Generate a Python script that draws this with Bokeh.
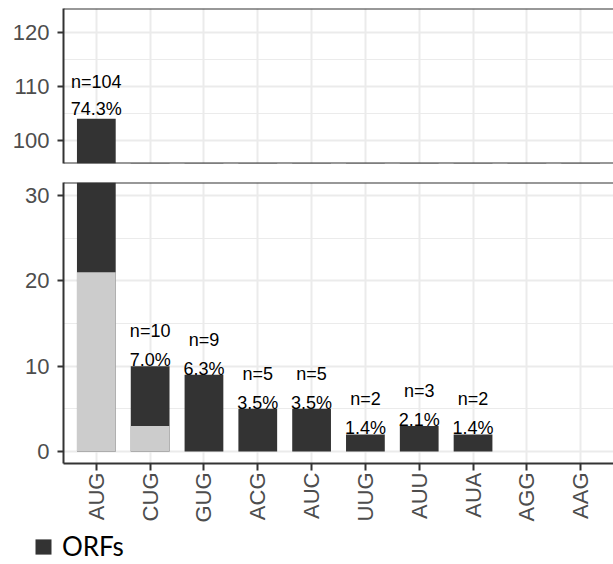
from bokeh.plotting import figure
from bokeh.models import (FactorRange, Range1d, SingleIntervalTicker, Legend, LegendItem,
                          ColumnDataSource, Span, CDSView, BooleanFilter)
from bokeh.layouts import column
from bokeh.embed import file_html
from bokeh.resources import INLINE
from bokeh.core.properties import value
from math import pi

# ---- data ----
codons = ["AUG", "CUG", "GUG", "ACG", "AUC", "UUG", "AUU", "AUA", "AGG", "AAG"]
orfs = [104, 10, 9, 5, 5, 2, 3, 2, 0, 0]
light_part = [21, 3, 0, 0, 0, 0, 0, 0, 0, 0]
n_labels = ["n=104", "n=10", "n=9", "n=5", "n=5", "n=2", "n=3", "n=2", "", ""]
pct_labels = ["74.3%", "7.0%", "6.3%", "3.5%", "3.5%", "1.4%", "2.1%", "1.4%", "", ""]
series_name = "ORFs"

DARK = "#333333"
LIGHT = "#CCCCCC"
GRID = "#EBEBEB"
TICK_TXT = "#4D4D4D"
FONT = "Liberation Sans"

src = ColumnDataSource(dict(codon=codons, orfs=orfs, light=light_part,
                            nlab=n_labels, plab=pct_labels))


def make_panel(y_start, y_end, height, min_top, min_bottom, pct_off, n_off, show_x):
    p = figure(width=613, height=height,
               x_range=FactorRange(factors=codons, range_padding=0.11,
                                   range_padding_units="absolute"),
               y_range=Range1d(y_start, y_end),
               output_backend="svg", toolbar_location=None,
               min_border_left=63, min_border_right=0,
               min_border_top=min_top, min_border_bottom=min_bottom)
    p.outline_line_color = None
    p.background_fill_color = "white"
    p.border_fill_color = "white"

    # bars
    r = p.vbar(x="codon", top="orfs", bottom=0, width=0.72, source=src,
               fill_color=DARK, line_color=None)
    p.vbar(x="codon", top="light", bottom=0, width=0.72, source=src,
           fill_color=LIGHT, line_color=None)

    # labels: only those whose bar top falls inside this panel
    keep = [(y_start < v < y_end) and lab != "" for v, lab in zip(orfs, n_labels)]
    view = CDSView(filter=BooleanFilter(keep))
    p.text(x="codon", y="orfs", text="plab", source=src, view=view, text_align="center",
           text_baseline="alphabetic", y_offset=pct_off, text_font=value(FONT),
           text_font_size="18px", text_color="black")
    p.text(x="codon", y="orfs", text="nlab", source=src, view=view, text_align="center",
           text_baseline="alphabetic", y_offset=n_off, text_font=value(FONT),
           text_font_size="18px", text_color="black")

    # y axis
    p.yaxis.ticker = SingleIntervalTicker(interval=10, num_minor_ticks=2)
    p.yaxis.axis_line_color = DARK
    p.yaxis.axis_line_width = 2
    p.yaxis.major_tick_line_color = DARK
    p.yaxis.major_tick_line_width = 2
    p.yaxis.major_tick_out = 6
    p.yaxis.major_tick_in = 0
    p.yaxis.minor_tick_line_color = None
    p.yaxis.major_label_text_font = FONT
    p.yaxis.major_label_text_font_size = "22px"
    p.yaxis.major_label_text_color = TICK_TXT
    p.yaxis.major_label_standoff = 8

    # grids
    p.ygrid.grid_line_color = GRID
    p.ygrid.grid_line_width = 2
    p.ygrid.minor_grid_line_color = GRID
    p.ygrid.minor_grid_line_width = 1
    p.xgrid.grid_line_color = GRID
    p.xgrid.grid_line_width = 2

    # borders (top and bottom lines, right side left open)
    p.add_layout(Span(location=y_end, dimension="width", line_color=DARK, line_width=2))
    if not show_x:
        p.add_layout(Span(location=y_start, dimension="width", line_color=DARK, line_width=2))
        p.xaxis.visible = False
    else:
        p.xaxis.axis_line_color = DARK
        p.xaxis.axis_line_width = 2
        p.xaxis.major_tick_line_color = DARK
        p.xaxis.major_tick_line_width = 2
        p.xaxis.major_tick_out = 7
        p.xaxis.major_tick_in = 0
        p.xaxis.major_label_orientation = pi / 2
        p.xaxis.major_label_text_font = FONT
        p.xaxis.major_label_text_font_size = "22px"
        p.xaxis.major_label_text_color = TICK_TXT
        p.xaxis.major_label_standoff = 2
    return p, r


top, _ = make_panel(95.7, 124.4, 165, 8, 2, -10, -37, False)
bottom, _ = make_panel(-1.4, 31.5, 365, 17, 67, -6, -35, True)

# legend strip: its own small plot whose frame fills it, bars kept out of view
leg = figure(width=613, height=34, x_range=FactorRange(factors=codons),
             y_range=Range1d(1000, 1001), output_backend="svg", toolbar_location=None,
             min_border=0, min_border_left=0, min_border_right=0,
             min_border_top=0, min_border_bottom=0)
leg.axis.visible = False
leg.grid.visible = False
leg.outline_line_color = None
leg.background_fill_color = "white"
leg.border_fill_color = "white"
rleg = leg.vbar(x="codon", top="orfs", bottom=0, width=0.72, source=src,
                fill_color=DARK, line_color=None)
legend = Legend(items=[LegendItem(label=series_name, renderers=[rleg])],
                location=(33, 2), orientation="horizontal",
                glyph_width=20, glyph_height=19, label_height=26,
                label_standoff=9, padding=0, margin=0, spacing=0,
                border_line_color=None, background_fill_alpha=0,
                label_text_font="Lato", label_text_font_size="26px",
                label_text_color="black", label_text_baseline="middle")
leg.add_layout(legend)

layout = column(column(top, bottom, spacing=0), leg, spacing=0)
open("out.html", "w").write(file_html(layout, INLINE))
